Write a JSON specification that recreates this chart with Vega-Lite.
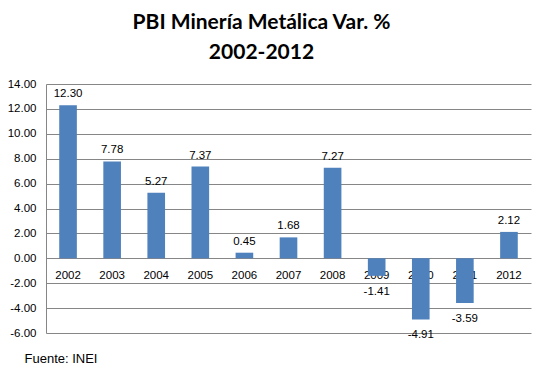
{
  "$schema": "https://vega.github.io/schema/vega-lite/v6.json",
  "width": 485,
  "height": 249,
  "autosize": "none",
  "padding": {"left": 46, "top": 84, "right": 15, "bottom": 46},
  "background": "white",
  "title": {
    "text": ["PBI Minería Metálica Var. %", "2002-2012"],
    "font": "Lato",
    "fontSize": 21,
    "fontWeight": "bold",
    "color": "#000000",
    "lineHeight": 30,
    "anchor": "middle",
    "dx": -27,
    "offset": 15
  },
  "data": {
    "values": [
      {"year": "2002", "value": 12.30},
      {"year": "2003", "value": 7.78},
      {"year": "2004", "value": 5.27},
      {"year": "2005", "value": 7.37},
      {"year": "2006", "value": 0.45},
      {"year": "2007", "value": 1.68},
      {"year": "2008", "value": 7.27},
      {"year": "2009", "value": -1.41},
      {"year": "2010", "value": -4.91},
      {"year": "2011", "value": -3.59},
      {"year": "2012", "value": 2.12}
    ]
  },
  "encoding": {
    "x": {
      "field": "year",
      "type": "ordinal",
      "scale": {"paddingInner": 0.6, "paddingOuter": 0.3},
      "axis": {
        "orient": "bottom",
        "offset": -74.7,
        "domain": false,
        "ticks": false,
        "labelAngle": 0,
        "labelPadding": 11,
        "labelFont": "Liberation Sans",
        "labelFontSize": 11.5,
        "labelColor": "#000000",
        "title": "Fuente: INEI",
        "titleX": -22,
        "titleY": 104,
        "titleAlign": "left",
        "titleBaseline": "alphabetic",
        "titleFont": "Liberation Sans",
        "titleFontSize": 13,
        "titleFontWeight": "normal",
        "titleColor": "#000000"
      }
    },
    "y": {
      "field": "value",
      "type": "quantitative",
      "scale": {"domain": [-6, 14], "nice": false, "zero": false},
      "axis": {
        "values": [-6, -4, -2, 0, 2, 4, 6, 8, 10, 12, 14],
        "format": ".2f",
        "grid": true,
        "gridColor": "#868686",
        "gridWidth": 1,
        "domain": true,
        "domainColor": "#868686",
        "ticks": false,
        "labelPadding": 10,
        "labelFont": "Liberation Sans",
        "labelFontSize": 11.5,
        "labelColor": "#000000",
        "title": null
      }
    }
  },
  "layer": [
    {"mark": {"type": "bar", "color": "#4F81BD"}},
    {
      "transform": [{"filter": "datum.value >= 0"}],
      "mark": {"type": "text", "baseline": "alphabetic", "dy": -8, "font": "Liberation Sans", "fontSize": 11.5, "color": "#000000"},
      "encoding": {"text": {"field": "value", "type": "quantitative", "format": ".2f"}}
    },
    {
      "transform": [{"filter": "datum.value < 0"}],
      "mark": {"type": "text", "baseline": "top", "dy": 10, "font": "Liberation Sans", "fontSize": 11.5, "color": "#000000"},
      "encoding": {"text": {"field": "value", "type": "quantitative", "format": ".2f"}}
    }
  ],
  "config": {
    "view": {"stroke": null},
    "locale": {
      "number": {
        "decimal": ".",
        "thousands": ",",
        "grouping": [3],
        "currency": ["$", ""],
        "minus": "-"
      }
    }
  }
}
